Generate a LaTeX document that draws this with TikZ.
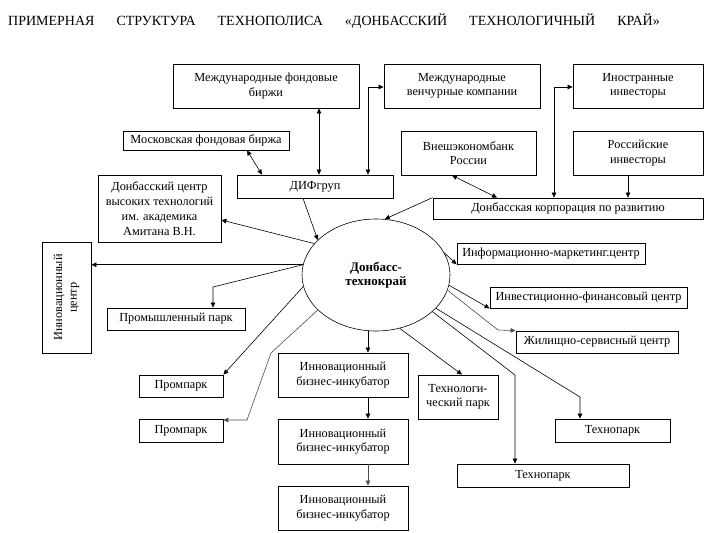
\documentclass[tikz,border=0pt]{standalone}
\usepackage{fontspec}
\setmainfont{Liberation Serif}
\usetikzlibrary{shapes.geometric}
\usetikzlibrary{arrows.meta}

\begin{document}
\begin{tikzpicture}[x=1pt,y=-1pt,
    font=\fontsize{12.3}{14.5}\selectfont,
    box/.style={draw,line width=0.8pt,align=center,inner sep=1pt},
    arr/.style={-{Triangle[length=5pt,width=4.5pt]},line width=0.6pt},
    darr/.style={{Triangle[length=5pt,width=4.5pt]}-{Triangle[length=5pt,width=4.5pt]},line width=0.6pt},
    grey/.style={draw=black!70}]
    \useasboundingbox (0,0) rectangle (716,533);
    \node[anchor=base west,inner sep=0,font=\fontsize{14}{16}\selectfont] (title) at (8,25)
      {ПРИМЕРНАЯ\hspace{22pt}СТРУКТУРА\hspace{22pt}ТЕХНОПОЛИСА\hspace{22pt}«ДОНБАССКИЙ\hspace{22pt}ТЕХНОЛОГИЧНЫЙ\hspace{22pt}КРАЙ»};
    % top row
    \node[box,minimum width=186,minimum height=44] (mfb) at (266,86) {Международные фондовые\\биржи};
    \node[box,minimum width=156,minimum height=44] (mvk) at (462,86) {Международные\\венчурные компании};
    \node[box,minimum width=130,minimum height=44] (invfor) at (638,86) {Иностранные\\инвесторы};
    \node[box,minimum width=166,minimum height=19] (mosc) at (206,140.5) {Московская фондовая биржа};
    \node[box,minimum width=135,minimum height=44] (veb) at (468.5,153) {Внешэкономбанк\\России};
    \node[box,minimum width=130,minimum height=44] (invru) at (638,153) {Российские\\инвесторы};
    \node[box,minimum width=156,minimum height=23] (dif) at (315,186.5) {ДИФгруп};
    \node[box,minimum width=270,minimum height=21] (corp) at (568,208.5) {Донбасская корпорация по развитию};
    \node[box,minimum width=123,minimum height=67,font=\fontsize{12.3}{15}\selectfont] (dcvt) at (159.5,208.5) {Донбасский центр\\высоких технологий\\им. академика\\Амитана В.Н.};
    % centre
    \node[ellipse,draw,line width=0.6pt,minimum width=148,minimum height=112,align=center,
      font=\fontsize{13}{13.5}\selectfont\bfseries] (ell) at (376,275) {Донбасс-\\технокрай};
    \node[box,rotate=90,minimum width=111,minimum height=49] (ic) at (66.5,297.5) {Инновационный\\центр};
    \node[box,minimum width=188,minimum height=21] (imc) at (551,253.5) {Информационно-маркетинг.центр};
    \node[box,minimum width=197,minimum height=21] (ifc) at (588.5,297.5) {Инвестиционно-финансовый центр};
    \node[box,minimum width=162,minimum height=22] (zhsc) at (597,342) {Жилищно-сервисный центр};
    \node[box,minimum width=138,minimum height=22] (pp) at (176,319) {Промышленный парк};
    % bottom
    \node[box,minimum width=84,minimum height=22] (pr1) at (181,386) {Промпарк};
    \node[box,minimum width=84,minimum height=23] (pr2) at (181,430.5) {Промпарк};
    \node[box,minimum width=130,minimum height=44] (inc1) at (343,375) {Инновационный\\бизнес-инкубатор};
    \node[box,minimum width=130,minimum height=45] (inc2) at (343,441.5) {Инновационный\\бизнес-инкубатор};
    \node[box,minimum width=130,minimum height=44] (inc3) at (343,508) {Инновационный\\бизнес-инкубатор};
    \node[box,minimum width=80,minimum height=44] (tp) at (458,397) {Технологи-\\ческий парк};
    \node[box,minimum width=115,minimum height=23] (tpk1) at (612.5,430.5) {Технопарк};
    \node[box,minimum width=172,minimum height=23] (tpk2) at (543,475.5) {Технопарк};
    % links above the centre
    \draw[darr] (319,0 |- mfb.south) -- (319,0 |- dif.north);
    \draw[darr] (368,0 |- dif.north) |- (mvk.west |- 0,87);
    \draw[darr] (mosc.south -| 247,0) -- (dif.north -| 262,0);
    \draw[arr] (dif.south -| 303,0) -- (ell.149);
    \draw[arr] (ell.153) -- (dcvt.east |- 0,220);
    \draw[arr] (corp.north west) -- (ell.81);
    \draw[darr] (veb.south -| 452,0) -- (corp.north -| 497,0);
    \draw[darr] (corp.north -| 554,0) |- (invfor.west |- 0,87);
    \draw[arr] (invru.south -| 628,0) -- (corp.north -| 628,0);
    % links to the left
    \draw[arr] (ell.172) -- (ell.172 -| ic.south);
    \draw[arr] (ell.172) -- (213,287) -- (213,0 |- pp.north);
    \draw[arr] (ell.189) -- (pr1.north east);
    \draw[arr,grey] (ell.211) -- (271,353) -- (247,420) -- (pr2.east |- 0,420);
    % links down
    \draw[arr] (368,0 |- ell.south) -- (368,0 |- inc1.north);
    \draw[arr] (368,0 |- inc1.south) -- (368,0 |- inc2.north);
    \draw[arr,grey] (368,0 |- inc2.south) -- (368,0 |- inc3.north);
    \draw[arr] (ell.294) -- (tp.north -| 462,0);
    \draw[arr] (ell.327) -- (515,375) -- (515,0 |- tpk2.north);
    \draw[arr] (ell.331) -- (580,397) -- (580,0 |- tpk1.north);
    % links to the right
    \draw[arr] (ell.18) -- (imc.south west);
    \draw[arr] (ell.352) -- (ifc.south west);
    \draw[arr,grey] (ell.348) -- (498,330) -- (zhsc.north west);
\end{tikzpicture}
\end{document}
